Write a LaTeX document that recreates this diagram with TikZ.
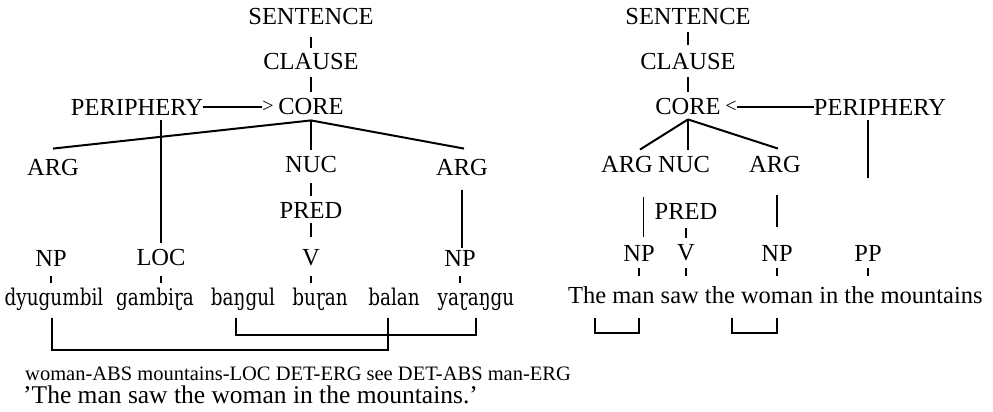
\documentclass[tikz,border=0pt]{standalone}
\usepackage{fontspec}
\setmainfont{Liberation Serif}
\newfontfamily\dyfont[FakeStretch=0.8]{DejaVu Serif}
\begin{document}
\begin{tikzpicture}[x=1pt,y=-1pt,
  lab/.style={inner sep=0pt, font=\fontsize{24.5}{28}\selectfont},
  wd/.style={inner sep=0pt, anchor=base, font=\dyfont\fontsize{23}{26}\selectfont},
  sym/.style={inner sep=0pt, font=\fontsize{20}{24}\selectfont},
  vln/.style={line width=1.3pt},
  brn/.style={line width=2pt},
  thn/.style={line width=0.6pt},
  brk/.style={line width=1.3pt},
]
\useasboundingbox (0,0) rectangle (993,412);
\fill[white] (0,0) rectangle (993,412);

% ---------- left tree ----------
\node[lab] (sentL)   at (311,17)  {SENTENCE};
\node[lab] (clauseL) at (311,62)  {CLAUSE};
\node[lab] (coreL)   at (311,107) {CORE};
\node[lab] (perL)    at (137,107) {PERIPHERY};
\node[sym] (gtL)     at (268,107) {>};
\node[lab] (argL1)   at (53,168)  {ARG};
\node[lab] (nucL)    at (311,165) {NUC};
\node[lab] (argL2)   at (462,168) {ARG};
\node[lab] (predL)   at (311,211) {PRED};
\node[lab] (npL1)    at (51,258)  {NP};
\node[lab] (locL)    at (161,258) {LOC};
\node[lab] (vL)      at (311,258) {V};
\node[lab] (npL2)    at (460,258) {NP};

\node[wd] (w1) at (54,305)  {dyugumbil};
\node[wd] (w2) at (155,305) {gambiɽa};
\node[wd] (w3) at (243,305) {baŋgul};
\node[wd] (w4) at (320,305) {buɽan};
\node[wd] (w5) at (394,305) {balan};
\node[wd] (w6) at (476,305) {yaɽaŋgu};

\node[inner sep=0pt, anchor=base west, font=\fontsize{20.5}{24}\selectfont] (gl1) at (25,380)
  {woman-ABS mountains-LOC DET-ERG see DET-ABS man-ERG};
\node[inner sep=0pt, anchor=base west, font=\fontsize{25.5}{28}\selectfont] (gl2) at (23,403)
  {'The man saw the woman in the mountains.'};

\coordinate (apexL) at ([yshift=-5pt]coreL.south);

\draw[vln, shorten <=12pt, shorten >=6pt] (sentL.south) -- (clauseL.north);
\draw[vln, shorten <=7pt, shorten >=7pt] (clauseL.south) -- (coreL.north);
\draw[vln] (perL.east) -- (gtL.west);
\draw[brn] (apexL) -- ([yshift=11pt]argL1.north);
\draw[brn] (apexL) -- ([xshift=2pt,yshift=11pt]argL2.north);
\draw[vln] (apexL) -- ([yshift=7pt]nucL.north);
\draw[vln, shorten <=5pt, shorten >=7pt] (perL.south -| locL.north) -- (locL.north);
\draw[vln, shorten <=10pt, shorten >=7pt] (nucL.south) -- (predL.north);
\draw[vln, shorten <=14pt, shorten >=2pt] (argL2.south) -- (argL2.south |- npL2.north);
\draw[vln, shorten <=4pt, shorten >=13pt] (predL.south) -- (vL.north);
\foreach \n in {npL1,locL,vL,npL2}
  \draw[vln] ([yshift=-10pt]\n.south) -- ([yshift=-17pt]\n.south);

\coordinate (bA1) at (52,318);
\coordinate (bA2) at (388,318);
\coordinate (bB1) at (236,318);
\coordinate (bB2) at (476,318);
\draw[brk] (bA1) -- ++(0,32) -| (bA2);
\draw[brk] (bB1) -- ++(0,17) -| (bB2);

% ---------- right tree ----------
\node[lab] (sentR)   at (688,17)  {SENTENCE};
\node[lab] (clauseR) at (688,62)  {CLAUSE};
\node[lab] (coreR)   at (688,107) {CORE};
\node[sym] (ltR)     at (731,107) {<};
\node[lab] (perR)    at (880,107) {PERIPHERY};
\node[lab] (argR1)   at (627,165) {ARG};
\node[lab] (nucR)    at (684,165) {NUC};
\node[lab] (argR2)   at (775,165) {ARG};
\node[lab] (predR)   at (686,212) {PRED};
\node[lab] (npR1)    at (639,253) {NP};
\node[lab] (vR)      at (686,253) {V};
\node[lab] (npR2)    at (777,253) {NP};
\node[lab] (ppR)     at (868,253) {PP};

\node[inner sep=0pt, anchor=base west, font=\fontsize{24.5}{28}\selectfont] (sentEn) at (568,303)
  {The man saw the woman in the mountains};

\coordinate (apexR) at ([yshift=-4pt]coreR.south);

\draw[vln, shorten <=7pt, shorten >=9pt] (sentR.south) -- (clauseR.north);
\draw[vln, shorten <=7pt, shorten >=7pt] (clauseR.south) -- (coreR.north);
\draw[vln] (ltR.east) -- (perR.west);
\draw[brn] (apexR) -- ([xshift=13pt,yshift=7pt]argR1.north);
\draw[brn] (apexR) -- ([xshift=3pt,yshift=8pt]argR2.north);
\draw[vln] (apexR) -- ([xshift=4pt,yshift=7pt]nucR.north);
\draw[vln, shorten <=5pt, shorten >=67pt] (perR.south -| ppR.north) -- (ppR.north);
\draw[thn, shorten <=24pt, shorten >=8pt] ([xshift=16pt]argR1.south) -- ([xshift=4pt]npR1.north);
\draw[vln, shorten <=22pt, shorten >=18pt] ([xshift=2pt]argR2.south) -- (npR2.north);
\draw[vln, shorten <=8pt, shorten >=7pt] (predR.south) -- (vR.north);
\foreach \n in {npR1,vR,npR2,ppR}
  \draw[vln] ([yshift=-7pt]\n.south) -- ([yshift=-15pt]\n.south);

\coordinate (bC1) at (595,318);
\coordinate (bC2) at (639,318);
\coordinate (bD1) at (732,318);
\coordinate (bD2) at (777,318);
\draw[brk] (bC1) -- ++(0,15) -| (bC2);
\draw[brk] (bD1) -- ++(0,15) -| (bD2);
\end{tikzpicture}
\end{document}
